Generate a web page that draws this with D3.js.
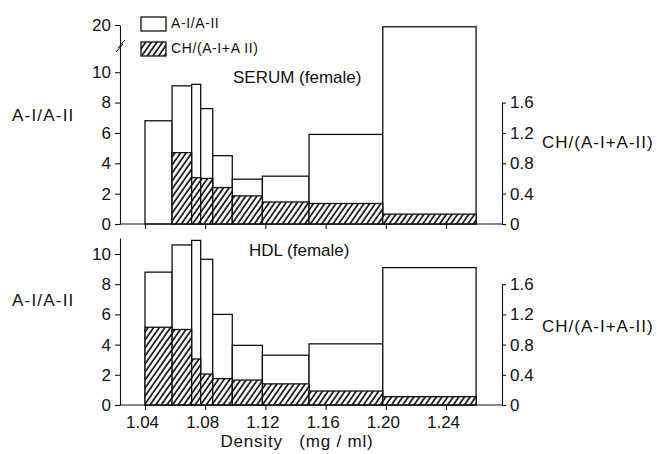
<!DOCTYPE html>
<meta charset="utf-8">
<title>A-I/A-II and CH/(A-I+A-II) by density</title>
<script src="https://d3js.org/d3.v7.min.js"></script>
<style>
body { margin: 0; background: #fff; }
text { font-family: "Liberation Sans", Arial, sans-serif; fill: #111; }
.axis path, .axis line { stroke: #111; stroke-width: 1.1; }
.axis text { font-size: 17px; }
</style>
<div id="chart"></div>
<script>
// density fraction edges (g/ml), one bar between each pair
const densityEdges = [1.04, 1.058, 1.071, 1.077, 1.085, 1.098, 1.118, 1.149, 1.198, 1.26];
// SERUM (female)
const serumRatio = [6.8, 9.1, 9.2, 7.6, 4.5, 2.95, 3.15, 5.9, 19.5];
const serumCH    = [0, 0.94, 0.61, 0.60, 0.48, 0.37, 0.29, 0.27, 0.13];
// HDL (female)
const hdlRatio = [8.8, 10.6, 10.9, 9.65, 6.0, 3.95, 3.3, 4.05, 9.1];
const hdlCH    = [1.03, 1.0, 0.61, 0.41, 0.35, 0.33, 0.28, 0.185, 0.11];
// tick labels
const xTicks = [1.04, 1.08, 1.12, 1.16, 1.20, 1.24];
const leftTicksTop = [0, 2, 4, 6, 8, 10, 20];
const leftTicksBottom = [0, 2, 4, 6, 8, 10];
const rightTicks = [0, 0.4, 0.8, 1.2, 1.6];

const width = 657, height = 454;
const axisLeftX = 120, axisRightX = 502;

const svg = d3.select("#chart")
    .append("svg")
    .attr("width", width)
    .attr("height", height);

// hatch pattern
svg.append("defs")
    .append("pattern")
    .attr("id", "hatch")
    .attr("width", 4.6)
    .attr("height", 6)
    .attr("patternUnits", "userSpaceOnUse")
    .attr("patternTransform", "rotate(35)")
    .call(p => {
        p.append("rect").attr("width", 4.6).attr("height", 6).attr("fill", "#fff");
        p.append("line").attr("x1", 1).attr("x2", 1).attr("y1", 0).attr("y2", 6)
            .attr("stroke", "#111").attr("stroke-width", 1.7);
    });

const x = d3.scaleLinear().domain([1.04, 1.24]).range([145, 446]);

function panel(opts) {
    const yL = d3.scaleLinear().domain(opts.leftDomain).range(opts.leftRange);
    const y0 = yL(0);
    const yR = d3.scaleLinear().domain([0, 1.6]).range([y0, yL(8)]);
    const bins = opts.ratio.map((v, i) => ({
        x0: densityEdges[i], x1: densityEdges[i + 1], ratio: v, ch: opts.ch[i]
    }));

    const g = svg.append("g");

    // open bars (A-I/A-II)
    g.selectAll("rect.open")
        .data(bins)
        .join("rect")
        .attr("class", "open")
        .attr("x", d => x(d.x0))
        .attr("width", d => x(d.x1) - x(d.x0))
        .attr("y", d => yL(d.ratio))
        .attr("height", d => y0 - yL(d.ratio))
        .attr("fill", "#fff")
        .attr("stroke", "#111")
        .attr("stroke-width", 1.3);

    // hatched bars (CH/(A-I+A-II))
    g.selectAll("rect.hatch")
        .data(bins.filter(d => d.ch > 0))
        .join("rect")
        .attr("class", "hatch")
        .attr("x", d => x(d.x0))
        .attr("width", d => x(d.x1) - x(d.x0))
        .attr("y", d => yR(d.ch))
        .attr("height", d => y0 - yR(d.ch))
        .attr("fill", "url(#hatch)")
        .attr("stroke", "#111")
        .attr("stroke-width", 1.3);

    // baseline
    g.append("line")
        .attr("x1", axisLeftX).attr("x2", axisRightX)
        .attr("y1", y0).attr("y2", y0)
        .attr("stroke", "#111").attr("stroke-width", 1.1);

    // x ticks
    const xAxis = d3.axisBottom(x).tickValues(xTicks).tickSize(5).tickSizeOuter(0)
        .tickFormat(opts.xLabels ? d3.format(".2f") : () => "");
    g.append("g")
        .attr("class", "axis")
        .attr("transform", `translate(0,${y0})`)
        .call(xAxis)
        .call(a => a.select(".domain").remove())
        .call(a => a.selectAll("text").attr("dy", "0.9em").attr("dx", "-3"));

    // left axis
    g.append("g")
        .attr("class", "axis")
        .attr("transform", `translate(${axisLeftX},0)`)
        .call(d3.axisLeft(yL).tickValues(opts.leftTicks).tickSize(5).tickSizeOuter(0).tickPadding(4));

    // right axis
    g.append("g")
        .attr("class", "axis")
        .attr("transform", `translate(${axisRightX},0)`)
        .call(d3.axisRight(yR).tickValues(rightTicks).tickSize(4).tickSizeOuter(0).tickPadding(4)
            .tickFormat(d => d === 0 ? "0" : d3.format(".1f")(d)));

    g.append("text")
        .attr("x", 12).attr("y", opts.leftTitleY)
        .attr("dominant-baseline", "middle")
        .style("font-size", "17px")
        .style("letter-spacing", "1.2px")
        .text("A-I/A-II");

    g.append("text")
        .attr("x", 542).attr("y", opts.rightTitleY)
        .attr("dominant-baseline", "middle")
        .style("font-size", "17px")
        .style("letter-spacing", "1px")
        .text("CH/(A-I+A-II)");

    g.append("text")
        .attr("x", opts.titleX).attr("y", opts.titleY)
        .attr("dominant-baseline", "middle")
        .style("font-size", "17px")
        .text(opts.title);

    return g;
}

const topPanel = panel({
    leftDomain: [0, 11, 20], leftRange: [224, 57, 25], leftTicks: leftTicksTop,
    ratio: serumRatio, ch: serumCH, xLabels: false,
    leftTitleY: 117, rightTitleY: 144,
    title: "SERUM (female)", titleX: 233, titleY: 79
});

// axis break marks
topPanel.selectAll("line.brk")
    .data([0, 1])
    .join("line")
    .attr("class", "brk")
    .attr("x1", d => axisLeftX - 4 + d * 2).attr("x2", d => axisLeftX + 3 + d * 2)
    .attr("y1", d => 52 - d * 4).attr("y2", d => 44 - d * 4)
    .attr("stroke", "#111").attr("stroke-width", 1);

panel({
    leftDomain: [0, 11.06], leftRange: [405, 238], leftTicks: leftTicksBottom,
    ratio: hdlRatio, ch: hdlCH, xLabels: true,
    leftTitleY: 302, rightTitleY: 328,
    title: "HDL (female)", titleX: 249, titleY: 252
});

// legend
const legend = svg.append("g");
const legendItems = [
    {label: "A-I/A-II", fill: "#fff", y: 17},
    {label: "CH/(A-I+A II)", fill: "url(#hatch)", y: 42}
];
legend.selectAll("rect")
    .data(legendItems)
    .join("rect")
    .attr("x", 141).attr("y", d => d.y)
    .attr("width", 25).attr("height", 14)
    .attr("fill", d => d.fill)
    .attr("stroke", "#111").attr("stroke-width", 1.3);
legend.selectAll("text")
    .data(legendItems)
    .join("text")
    .attr("x", 171).attr("y", d => d.y + 7)
    .attr("dominant-baseline", "middle")
    .style("font-size", "14px")
    .style("letter-spacing", "0.6px")
    .text(d => d.label);

// x axis title
svg.append("text")
    .attr("x", 297).attr("y", 443)
    .attr("text-anchor", "middle")
    .attr("dominant-baseline", "middle")
    .style("font-size", "17px")
    .style("letter-spacing", "0.8px")
    .style("white-space", "pre")
    .text("Density   (mg / ml)");
</script>
